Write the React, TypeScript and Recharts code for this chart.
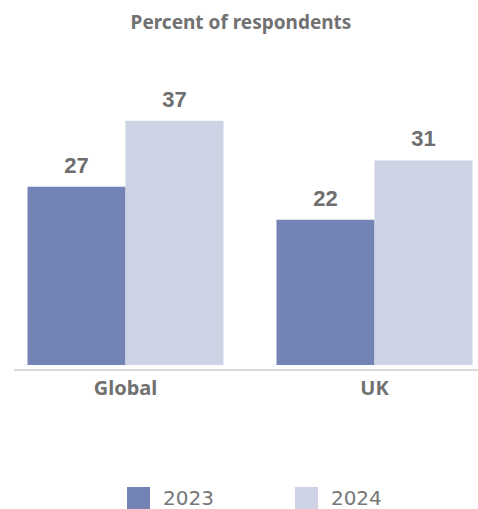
import React from "react"
import { BarChart, Bar, XAxis, YAxis, LabelList } from "recharts"

const categories = ["Global", "UK"]
const seriesNames = ["2023", "2024"]
const values2023 = [27, 22]
const values2024 = [37, 31]

const colors = ["#7483b6", "#cdd2e4"]
const textGray = "#717171"

const data = categories.map((name, i) => ({
  name,
  [seriesNames[0]]: values2023[i],
  [seriesNames[1]]: values2024[i],
}))

export default function App() {
  return (
    <div
      style={{
        position: "absolute",
        top: 0,
        left: 0,
        width: 478,
        height: 509,
        overflow: "hidden",
        background: "#fff",
      }}
    >
      <div
        style={{
          position: "absolute",
          top: 12,
          left: 0,
          width: 482,
          textAlign: "center",
          fontFamily: "'Noto Sans', sans-serif",
          fontWeight: 700,
          fontSize: 19,
          lineHeight: "20px",
          color: textGray,
        }}
      >
        Percent of respondents
      </div>

      <div style={{ position: "absolute", top: 0, left: 0 }}>
        <BarChart
          width={499}
          height={400}
          data={data}
          margin={{ top: 101, right: 0, bottom: 0, left: 1 }}
          barCategoryGap={26.5}
          barGap={0}
        >
          <XAxis
            dataKey="name"
            height={30}
            axisLine={false}
            tickLine={false}
            tickMargin={5}
            interval={0}
            tick={{
              fontSize: 20,
              fontWeight: 700,
              fill: textGray,
              fontFamily: "'Noto Sans', sans-serif",
            }}
          />
          <YAxis hide domain={[-0.75, 40]} />
          {seriesNames.map((s, i) => (
            <Bar key={s} dataKey={s} fill={colors[i]} isAnimationActive={false}>
              <LabelList
                dataKey={s}
                position="top"
                offset={14}
                style={{
                  fontSize: 22,
                  fontWeight: 700,
                  fill: "#6e6e6e",
                  fontFamily: "'Liberation Sans', Arial, sans-serif",
                }}
              />
            </Bar>
          ))}
        </BarChart>
      </div>

      {/* axis line */}
      <div
        style={{
          position: "absolute",
          top: 369,
          left: 14,
          width: 464,
          height: 2,
          background: "#d9d9d9",
        }}
      />

      <div
        style={{
          position: "absolute",
          top: 487,
          left: 127,
          display: "flex",
          gap: 81,
          fontFamily: "'DejaVu Sans', sans-serif",
          fontSize: 20,
          color: "#777",
        }}
      >
        {seriesNames.map((s, i) => (
          <div key={s} style={{ display: "flex", alignItems: "center", gap: 13 }}>
            <div style={{ width: 23, height: 22, background: colors[i] }} />
            <span style={{ lineHeight: "22px" }}>{s}</span>
          </div>
        ))}
      </div>
    </div>
  )
}
